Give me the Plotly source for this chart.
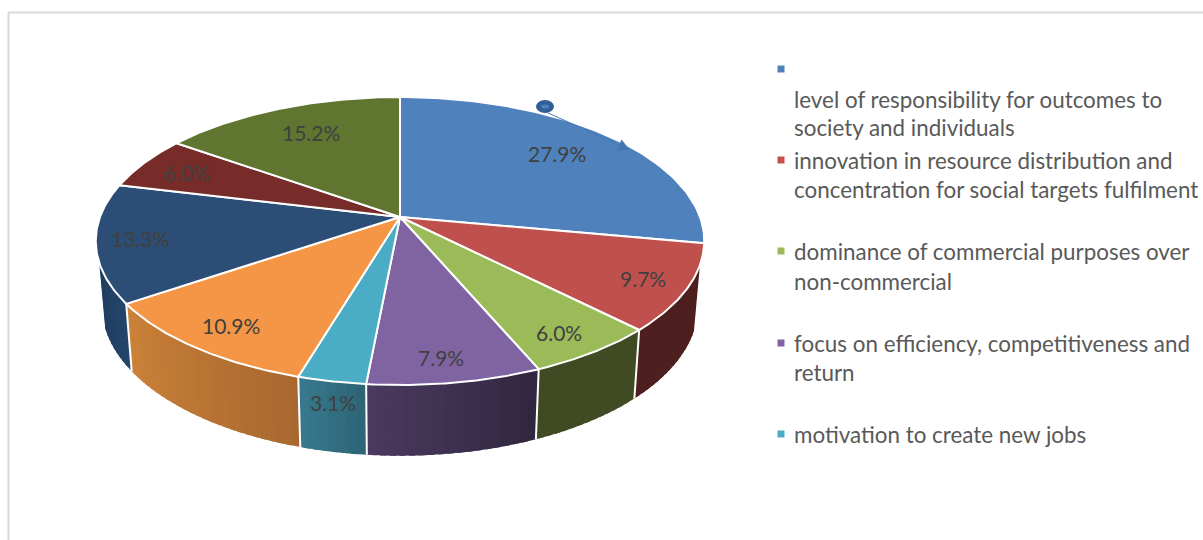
import numpy as np
import plotly.graph_objects as go

values = [27.9, 9.7, 6.0, 7.9, 3.1, 10.9, 13.3, 6.0, 15.2]
top_colors = ["#4f81bd", "#c0504d", "#9bbb59", "#8064a2", "#4bacc6",
              "#f49645", "#2c4d75", "#772c2a", "#5f7530"]
# side walls get a left to right shade, as seen from the front
side_right = ["#4f81bd", "#4d1f1e", "#404b23", "#30263f", "#2d6375",
              "#a8682f", "#24456b", "#772c2a", "#5f7530"]
side_left = ["#4f81bd", "#4d1f1e", "#404b23", "#4b3a5f", "#387a8e",
             "#cc8239", "#1f3d5f", "#772c2a", "#5f7530"]

label_x = [557, 643, 559, 441, 333, 231, 140, 187, 311]
label_y = [153, 278, 332, 357, 402, 325, 238, 172, 132]

legend_colors = top_colors[:5]
legend_marker_y = [69, 160, 251, 343, 434]
legend_lines = [
    "level of responsibility for outcomes to",
    "society and individuals",
    "innovation in resource distribution and",
    "concentration for social targets fulfilment",
    "dominance of commercial purposes over",
    "non-commercial",
    "focus on efficiency, competitiveness and",
    "return",
    "motivation to create new jobs",
]
legend_line_y = [99, 127, 160, 189, 251, 281, 343, 372, 434]

# projection of the disc, in pixels
CX, CY = 400, 217
RX, RY = 300, 140
PERSP = 1 / 6
BOTTOM_Y, BOTTOM_SX, BOTTOM_SY = 281, 0.98, 1.04
SIDE_FROM, SIDE_TO = 109, 252  # degrees where the wall is visible


def rim(deg):
    t = np.radians(deg)
    w = 1 + PERSP * np.cos(t)
    return CX + RX * np.sin(t) / w, CY - RY * np.cos(t) / w


def base(deg):
    t = np.radians(deg)
    w = 1 + PERSP * np.cos(t)
    return CX + BOTTOM_SX * RX * np.sin(t) / w, BOTTOM_Y - BOTTOM_SY * RY * np.cos(t) / w


def mix(c1, c2, f):
    a = [int(c1[i:i + 2], 16) for i in (1, 3, 5)]
    b = [int(c2[i:i + 2], 16) for i in (1, 3, 5)]
    return "rgb(%d,%d,%d)" % tuple(round(p + (q - p) * f) for p, q in zip(a, b))


def poly(xs, ys, fill, line, width):
    return go.Scatter(x=xs, y=ys, mode="lines", fill="toself", fillcolor=fill,
                      line=dict(color=line, width=width), hoverinfo="skip", showlegend=False)


edges = np.cumsum([0] + values) / sum(values) * 360
fig = go.Figure()

# walls first, the top disc covers whatever is behind it
for i in range(len(values)):
    a0, a1 = max(edges[i], SIDE_FROM), min(edges[i + 1], SIDE_TO)
    if a1 <= a0:
        continue
    steps = max(2, int((a1 - a0) / 1.5))
    cuts = np.linspace(a0, a1, steps + 1)
    for j in range(steps):
        # each strip runs on under the next one so no seam shows
        seg = np.linspace(cuts[j], min(cuts[j + 1] + 1, a1), 4)
        rx, ry = rim(seg)
        bx, by = base(seg[::-1])
        # angle runs right to left along the front
        col = mix(side_right[i], side_left[i], (j + 0.5) / steps)
        fig.add_trace(poly(list(rx) + list(bx) + [rx[0]], list(ry) + list(by) + [ry[0]], col, col, 0))

for a in edges:
    if SIDE_FROM < a < SIDE_TO:
        rx, ry = rim(a)
        bx, by = base(a)
        fig.add_trace(go.Scatter(x=[rx, bx], y=[ry, by], mode="lines", line=dict(color="white", width=2),
                                 hoverinfo="skip", showlegend=False))

for i in range(len(values)):
    seg = np.linspace(edges[i], edges[i + 1], 80)
    rx, ry = rim(seg)
    fig.add_trace(poly([CX] + list(rx) + [CX], [CY] + list(ry) + [CY], top_colors[i], "white", 2))

# legend keys
fig.add_trace(go.Scatter(
    x=[781] * len(legend_colors), y=legend_marker_y, mode="markers",
    marker=dict(symbol="square", size=7, color=legend_colors),
    hoverinfo="skip", showlegend=False,
))

for v, x, y in zip(values, label_x, label_y):
    fig.add_annotation(x=x, y=y, text=f"{v:.1f}%", showarrow=False,
                       font=dict(family="Lato", size=21, color="#404040"))

for text, y in zip(legend_lines, legend_line_y):
    fig.add_annotation(x=792, y=y, text=text, showarrow=False, xanchor="left",
                       font=dict(family="Lato", size=22.4, color="#595959"))

# stray callout left on the first slice
fig.add_annotation(x=630, y=150, ax=546, ay=112, axref="x", ayref="y", text="", showarrow=True,
                   arrowhead=2, arrowsize=2.4, arrowwidth=1, arrowcolor="#4478b4")
fig.add_shape(type="circle", x0=536, x1=554, y0=100, y1=113,
              line=dict(width=0), fillcolor="#2f5f96")
fig.add_shape(type="circle", x0=541, x1=549, y0=104.5, y1=108.5,
              line=dict(width=0), fillcolor="#4f81bd")

fig.add_shape(type="line", x0=8.5, x1=8.5, y0=12, y1=540, line=dict(color="#d9d9d9", width=2))
fig.add_shape(type="line", x0=8, x1=1203, y0=12.5, y1=12.5, line=dict(color="#d9d9d9", width=2))

fig.update_layout(
    width=1203, height=540,
    margin=dict(l=0, r=0, t=0, b=0),
    paper_bgcolor="white",
    plot_bgcolor="white",
    showlegend=False,
)
fig.update_xaxes(range=[0, 1203], visible=False, fixedrange=True)
fig.update_yaxes(range=[540, 0], visible=False, fixedrange=True)

fig.write_html("out.html", config=dict(displayModeBar=False),
               post_script="document.body.style.margin='0';document.body.style.overflow='hidden';")
